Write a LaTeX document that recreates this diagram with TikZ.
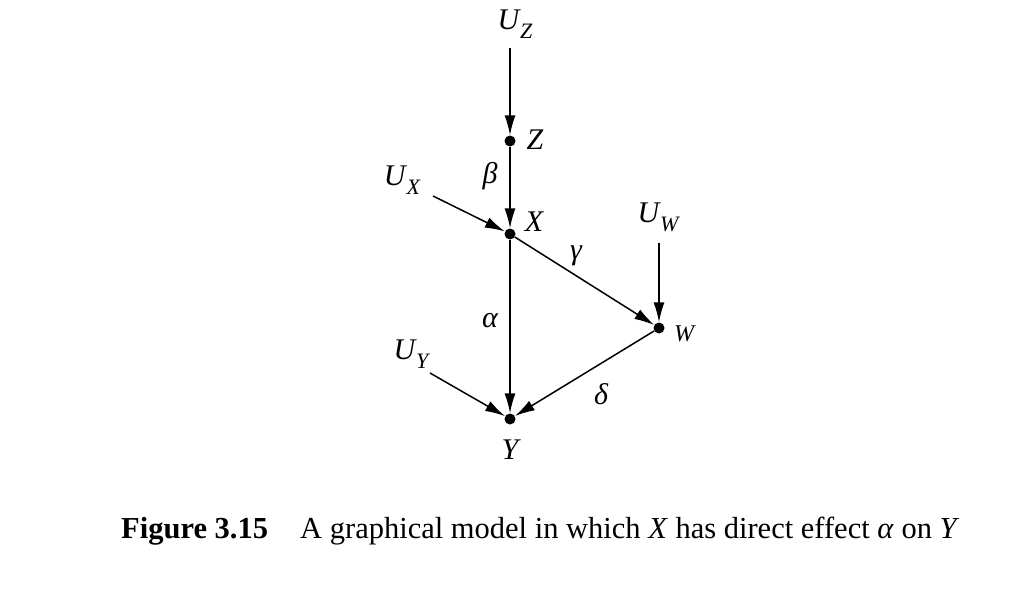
\documentclass[tikz,border=0pt]{standalone}
\usepackage{fontspec}
\setmainfont{Liberation Serif}
\usetikzlibrary{arrows.meta}
\newcommand\usub[1]{U\kern1pt\raisebox{-0.3em}{\fontsize{22}{24}\selectfont #1}}
\begin{document}
\begin{tikzpicture}[x=1pt,y=-1pt,
  dot/.style={circle,fill=black,inner sep=0pt,minimum size=11pt},
  lbl/.style={inner sep=0pt,font=\fontsize{30}{34}\selectfont\itshape},
  slbl/.style={inner sep=0pt,font=\fontsize{24}{28}\selectfont\itshape},
  edge/.style={line width=1.5pt,-{Latex[length=20pt,width=11pt]}},
  captxt/.style={inner sep=0pt,anchor=base west,font=\fontsize{30.5}{34}\selectfont},
  ]
\useasboundingbox (0,0) rectangle (1016,596);
% dots
\node[dot] (z) at (510,141) {};
\node[dot] (x) at (510,234) {};
\node[dot] (w) at (659,328) {};
\node[dot] (y) at (510,419) {};
% labels
\node[lbl] (uz) at (515,24) {\usub{Z}};
\node[lbl] (ux) at (402,180) {\usub{X}};
\node[lbl] (uw) at (658,217) {\usub{W}};
\node[lbl] (uy) at (411,354) {\usub{Y}};
\node[lbl] (zl) at (535,140) {Z};
\node[lbl] (xl) at (534,222) {X};
\node[slbl] (wl) at (684,334) {W};
\node[lbl] (yl) at (510,450) {Y};
\node[lbl] (beta) at (490,176) {β};
\node[lbl] (alpha) at (490,321) {α};
\node[lbl] (gamma) at (576,256) {γ};
\node[lbl] (delta) at (601,394) {δ};
% free ends
\coordinate (uzs) at (510,48);
\coordinate (uxs) at (433,196);
\coordinate (uws) at (659,243);
\coordinate (uys) at (430,373);
% edges
\draw[edge] (uzs) -- (z);
\draw[edge] (z) -- (x);
\draw[edge] (uxs) -- (x);
\draw[edge] (uws) -- (w);
\draw[edge] (x) -- (w);
\draw[edge] (x) -- (y);
\draw[edge] (uys) -- (y);
\draw[edge] (w) -- (y);
% caption
\node[captxt] (fig) at (121,538) {\textbf{Figure 3.15}};
\node[captxt] (captext) at (300,538) {A graphical model in which \textit{X} has direct effect \textit{α} on \textit{Y}};
\end{tikzpicture}
\end{document}
